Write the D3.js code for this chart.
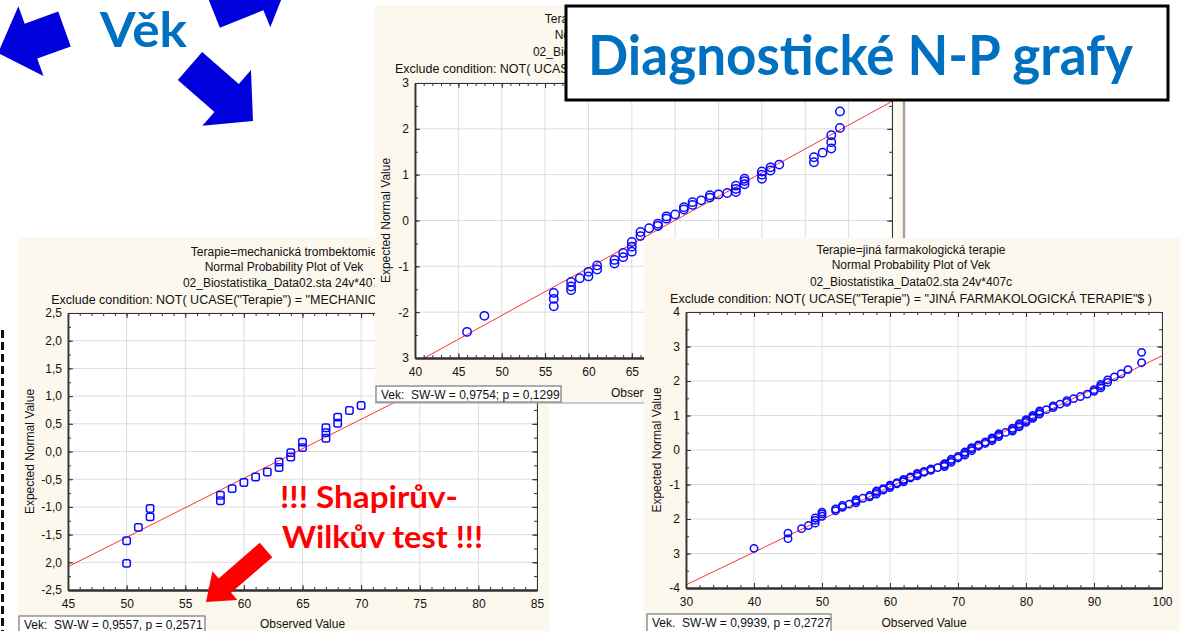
<!DOCTYPE html>
<html>
<head>
<meta charset="utf-8">
<script src="https://cdn.jsdelivr.net/npm/d3@7"></script>
<style>
  body { margin: 0; background: #fff; overflow: hidden; }
  svg { display: block; font-family: "Liberation Sans", Arial, sans-serif; }
</style>
</head>
<body>
<svg width="1180" height="631"></svg>
<script>
// ---- data ----
// [observed age, expected normal value]
var leftPoints = [
  [50, -2.02], [50, -1.61], [51, -1.37], [52, -1.18], [52, -1.03],
  [58, -0.89], [58, -0.79], [59, -0.67], [60, -0.56], [61, -0.46],
  [62, -0.37], [63, -0.29], [63, -0.19], [64, -0.10], [64, -0.02],
  [65, 0.07], [65, 0.17], [67, 0.24], [67, 0.34], [67, 0.43],
  [68, 0.51], [68, 0.62], [69, 0.74], [70, 0.83]
];
var topPoints = [
  [46, -2.43], [48, -2.08],
  [56, -1.58], [56, -1.71], [56, -1.87],
  [58, -1.34], [58, -1.44], [58, -1.52], [59, -1.26],
  [60, -1.12], [60, -1.22], [61, -0.98], [61, -1.07],
  [63, -0.86], [63, -0.94], [64, -0.71], [64, -0.80],
  [65, -0.47], [65, -0.57], [65, -0.68], [66, -0.25], [66, -0.34],
  [67, -0.17], [68, -0.07], [68, -0.12], [69, 0.04], [69, 0.09],
  [70, 0.13], [71, 0.24], [71, 0.29], [72, 0.34], [72, 0.40],
  [73, 0.44], [74, 0.50], [74, 0.55], [75, 0.57], [76, 0.60],
  [77, 0.62], [77, 0.69], [77, 0.76], [78, 0.79], [78, 0.86], [78, 0.91],
  [80, 0.91], [80, 1.00], [80, 1.07], [81, 1.09], [81, 1.16], [82, 1.22],
  [86, 1.27], [86, 1.38], [87, 1.48],
  [88, 1.57], [88, 1.71], [88, 1.86], [89, 2.02], [89, 2.38]
];
var rightPoints = [
  [40, -2.85], [45, -2.41], [45, -2.57], [47, -2.28], [48, -2.19],
  [49, -2.12], [49, -2.04], [49, -1.97], [50, -1.92], [50, -1.85], [50, -1.80],
  [52, -1.76], [52, -1.71], [53, -1.66], [53, -1.61], [54, -1.57],
  [55, -1.53], [55, -1.48], [55, -1.44], [56, -1.40], [57, -1.36], [57, -1.32],
  [58, -1.28], [58, -1.23], [58, -1.19], [59, -1.16], [59, -1.12],
  [60, -1.09], [60, -1.05], [60, -1.02], [61, -0.98], [61, -0.95],
  [62, -0.92], [62, -0.88], [62, -0.85], [63, -0.81], [63, -0.78],
  [64, -0.75], [64, -0.71], [64, -0.68], [65, -0.65], [65, -0.62],
  [66, -0.59], [66, -0.55], [67, -0.51], [68, -0.48], [68, -0.44], [68, -0.40],
  [69, -0.36], [69, -0.31], [69, -0.27], [70, -0.23], [70, -0.19],
  [71, -0.15], [71, -0.10], [71, -0.06], [72, -0.02], [72, 0.03], [72, 0.07],
  [73, 0.11], [73, 0.15], [74, 0.19], [74, 0.23],
  [75, 0.27], [75, 0.31], [75, 0.35], [76, 0.39], [76, 0.43], [76, 0.47],
  [77, 0.51], [78, 0.55], [78, 0.59], [78, 0.63], [79, 0.67], [79, 0.71], [79, 0.76],
  [80, 0.80], [80, 0.84], [80, 0.88], [81, 0.92], [81, 0.96], [81, 1.00],
  [82, 1.04], [82, 1.09], [82, 1.13], [83, 1.17], [84, 1.23], [84, 1.28],
  [85, 1.33], [86, 1.38], [86, 1.43], [87, 1.49], [88, 1.55], [89, 1.62],
  [90, 1.70], [90, 1.75], [91, 1.80], [91, 1.85], [91, 1.90],
  [92, 1.96], [92, 2.03], [93, 2.12], [94, 2.21], [95, 2.33],
  [97, 2.53], [97, 2.83]
];

// red reference lines, as two end points [x, y]
var leftFit = [[45, -2.08], [85, 2.18]];
var topFit = [[40, -3.11], [95, 2.60]];
var rightFit = [[30, -3.91], [100, 2.73]];

var leftXTicks = [45, 50, 55, 60, 65, 70, 75, 80, 85];
var leftYTicks = [2.5, 2, 1.5, 1, 0.5, 0, -0.5, -1, -1.5, -2, -2.5];
var leftYLabels = ["2,5", "2,0", "1,5", "1,0", "0,5", "0,0", "-0,5", "-1,0", "-1,5", "2,0", "-2,5"];
var topXTicks = [40, 45, 50, 55, 60, 65, 70, 75, 80, 85, 90, 95];
var topYTicks = [3, 2, 1, 0, -1, -2, -3];
var topYLabels = ["3", "2", "1", "0", "-1", "-2", "3"];
var rightXTicks = [30, 40, 50, 60, 70, 80, 90, 100];
var rightYTicks = [4, 3, 2, 1, 0, -1, -2, -3, -4];
var rightYLabels = ["4", "3", "2", "1", "0", "-1", "2", "3", "-4"];

var leftTitles = ["Terapie=mechanická trombektomie", "Normal Probability Plot of Vek",
  "02_Biostatistika_Data02.sta 24v*407c", 'Exclude condition: NOT( UCASE("Terapie") = "MECHANICKÁ TROMBEKTOMIE"$ )'];
var topTitles = ["Terapie=intraarteriální trombolýza", "Normal Probability Plot of Vek",
  "02_Biostatistika_Data02.sta 24v*407c", 'Exclude condition: NOT( UCASE("Terapie") = "INTRAARTERIÁLNÍ TROMBOLÝZA"$ )'];
var rightTitles = ["Terapie=jiná farmakologická terapie", "Normal Probability Plot of Vek",
  "02_Biostatistika_Data02.sta 24v*407c", 'Exclude condition: NOT( UCASE("Terapie") = "JINÁ FARMAKOLOGICKÁ TERAPIE"$ )'];

var leftStat = "Vek:  SW-W = 0,9557, p = 0,2571";
var topStat = "Vek:  SW-W = 0,9754; p = 0,1299";
var rightStat = "Vek.  SW-W = 0,9939, p = 0,2727";

var svg = d3.select("svg");
var cream = "#fcf8ee";

function drawChart(c) {
  var g = svg.append("g");
  var p = c.plot;

  g.append("rect")
    .attr("x", c.panel[0]).attr("y", c.panel[1])
    .attr("width", c.panel[2]).attr("height", c.panel[3])
    .attr("fill", cream);

  // title lines
  g.selectAll("text.title")
    .data(c.titles)
    .enter().append("text")
    .attr("class", "title")
    .attr("x", c.titleX)
    .attr("y", function(d, i) { return c.titleY[i]; })
    .attr("text-anchor", "middle")
    .attr("font-size", function(d, i) { return i == 3 ? 12.5 : 12; })
    .attr("fill", "#111")
    .text(function(d) { return d; });

  var x = d3.scaleLinear().domain(c.xDomain).range([p[0], p[1]]);
  var y = d3.scaleLinear().domain(c.yDomain).range([p[3], p[2]]);

  g.append("rect")
    .attr("x", p[0]).attr("y", p[2])
    .attr("width", p[1] - p[0]).attr("height", p[3] - p[2])
    .attr("fill", "#fff");

  // grid
  g.selectAll("line.gx")
    .data(c.xTicks)
    .enter().append("line")
    .attr("x1", function(d) { return x(d); }).attr("x2", function(d) { return x(d); })
    .attr("y1", p[2]).attr("y2", p[3])
    .attr("stroke", "#dcdcdc");
  g.selectAll("line.gy")
    .data(c.yTicks)
    .enter().append("line")
    .attr("y1", function(d) { return y(d); }).attr("y2", function(d) { return y(d); })
    .attr("x1", p[0]).attr("x2", p[1])
    .attr("stroke", "#dcdcdc");

  var clipId = "clip-" + c.name;
  g.append("clipPath").attr("id", clipId)
    .append("rect")
    .attr("x", p[0]).attr("y", p[2])
    .attr("width", p[1] - p[0]).attr("height", p[3] - p[2]);

  var inner = g.append("g").attr("clip-path", "url(#" + clipId + ")");

  inner.append("path")
    .datum(c.fit)
    .attr("d", d3.line().x(function(d) { return x(d[0]); }).y(function(d) { return y(d[1]); }))
    .attr("fill", "none")
    .attr("stroke", "#ff1a1a")
    .attr("stroke-width", 0.9);

  if (c.square) {
    inner.selectAll("rect.pt")
      .data(c.points)
      .enter().append("rect")
      .attr("x", function(d) { return x(d[0]) - 3.7; })
      .attr("y", function(d) { return y(d[1]) - 3.7; })
      .attr("width", 7.4).attr("height", 7.4).attr("rx", 2)
      .attr("fill", "none").attr("stroke", "#0a0aff").attr("stroke-width", 1.5);
  } else {
    inner.selectAll("circle.pt")
      .data(c.points)
      .enter().append("circle")
      .attr("cx", function(d) { return x(d[0]); })
      .attr("cy", function(d) { return y(d[1]); })
      .attr("r", c.r)
      .attr("fill", "none").attr("stroke", "#0a0aff").attr("stroke-width", 1.5);
  }

  // axes: labelled major ticks, minor ticks, all pointing inward
  var minorX = d3.range(c.xDomain[0], c.xDomain[1] + 0.001, c.xMinor);
  var minorY = d3.range(c.yDomain[0], c.yDomain[1] + 0.001, c.yMinor);

  function axisStyle(sel, w) {
    sel.select(".domain").attr("stroke", "#333").attr("stroke-width", w || 1);
    sel.selectAll(".tick line").attr("stroke", "#333");
    sel.selectAll(".tick text").attr("font-size", 12).attr("fill", "#111")
      .attr("font-family", "Liberation Sans, Arial, sans-serif");
  }

  g.append("g").attr("transform", "translate(0," + p[3] + ")")
    .call(d3.axisBottom(x).tickValues(c.xTicks).tickSize(-5).tickSizeOuter(0).tickPadding(9)
      .tickFormat(d3.format("d")))
    .call(axisStyle, 2);
  g.append("g").attr("transform", "translate(0," + p[3] + ")")
    .call(d3.axisBottom(x).tickValues(minorX).tickSize(-3).tickSizeOuter(0).tickFormat(""))
    .call(axisStyle, 2);
  g.append("g").attr("transform", "translate(" + p[0] + ",0)")
    .call(d3.axisLeft(y).tickValues(c.yTicks).tickSize(-5).tickSizeOuter(0).tickPadding(6)
      .tickFormat(function(d, i) { return c.yLabels[i]; }))
    .call(axisStyle, 1.5);
  g.append("g").attr("transform", "translate(" + p[0] + ",0)")
    .call(d3.axisLeft(y).tickValues(minorY).tickSize(-3).tickSizeOuter(0).tickFormat(""))
    .call(axisStyle, 1.5);
  g.append("g").attr("transform", "translate(0," + p[2] + ")")
    .call(d3.axisTop(x).tickValues(minorX).tickSize(-3).tickSizeOuter(0).tickFormat(""))
    .call(axisStyle);
  g.append("g").attr("transform", "translate(" + p[1] + ",0)")
    .call(d3.axisRight(y).tickValues(minorY).tickSize(-3).tickSizeOuter(0).tickFormat(""))
    .call(axisStyle);
  g.append("g").attr("transform", "translate(0," + p[2] + ")")
    .call(d3.axisTop(x).tickValues(c.xTicks).tickSize(-5).tickSizeOuter(0).tickFormat(""))
    .call(axisStyle);
  g.append("g").attr("transform", "translate(" + p[1] + ",0)")
    .call(d3.axisRight(y).tickValues(c.yTicks).tickSize(-5).tickSizeOuter(0).tickFormat(""))
    .call(axisStyle);

  // axis titles
  g.append("text")
    .attr("transform", "translate(" + c.yTitleX + "," + ((p[2] + p[3]) / 2) + ") rotate(-90)")
    .attr("text-anchor", "middle")
    .attr("dy", "0.35em")
    .attr("font-size", 12).attr("fill", "#111")
    .text("Expected Normal Value");
  g.append("text")
    .attr("x", (p[0] + p[1]) / 2).attr("y", c.xTitleY)
    .attr("text-anchor", "middle")
    .attr("font-size", 12).attr("fill", "#111")
    .text("Observed Value");

  // statistic box
  g.append("rect")
    .attr("x", c.statBox[0]).attr("y", c.statBox[1])
    .attr("width", c.statBox[2]).attr("height", c.statBox[3])
    .attr("fill", "#fff").attr("stroke", "#777").attr("stroke-width", 1.2);
  g.append("text")
    .attr("x", c.statBox[0] + 5).attr("y", c.statBox[1] + 13)
    .attr("font-size", 12).attr("fill", "#111")
    .attr("xml:space", "preserve")
    .text(c.stat);

  return g;
}

// dashed guide on the left edge
svg.append("line")
  .attr("x1", 2.5).attr("x2", 2.5).attr("y1", 330).attr("y2", 631)
  .attr("stroke", "#111").attr("stroke-width", 3).attr("stroke-dasharray", "8,4");

drawChart({
  name: "left", panel: [18, 237, 531, 400], plot: [68, 537, 313, 590],
  xDomain: [45, 85], yDomain: [-2.5, 2.5], xMinor: 1, yMinor: 0.25,
  xTicks: leftXTicks, yTicks: leftYTicks, yLabels: leftYLabels,
  titles: leftTitles, titleX: 284, titleY: [256, 271, 287, 304],
  points: leftPoints, fit: leftFit, square: true,
  yTitleX: 30, xTitleY: 628, statBox: [19, 616, 186, 20], stat: leftStat
});

var topG = drawChart({
  name: "top", panel: [375, 5, 530, 398], plot: [415, 892, 83, 358],
  xDomain: [40, 95], yDomain: [-3, 3], xMinor: 1, yMinor: 0.5,
  xTicks: topXTicks, yTicks: topYTicks, yLabels: topYLabels,
  titles: topTitles, titleX: 634, titleY: [23, 39, 56, 73],
  points: topPoints, fit: topFit, r: 4.2,
  yTitleX: 386, xTitleY: 397, statBox: [376, 386, 185, 16], stat: topStat
});
topG.append("line").attr("x1", 904).attr("x2", 904).attr("y1", 5).attr("y2", 403)
  .attr("stroke", "#a8a298").attr("stroke-width", 2.5);
topG.append("line").attr("x1", 375).attr("x2", 905).attr("y1", 403).attr("y2", 403)
  .attr("stroke", "#999").attr("stroke-width", 1);

drawChart({
  name: "right", panel: [644, 238, 536, 393], plot: [686, 1162, 312, 588],
  xDomain: [30, 100], yDomain: [-4, 4], xMinor: 2, yMinor: 0.5,
  xTicks: rightXTicks, yTicks: rightYTicks, yLabels: rightYLabels,
  titles: rightTitles, titleX: 911, titleY: [254, 269, 286, 303],
  points: rightPoints, fit: rightFit, r: 3.7,
  yTitleX: 657, xTitleY: 627, statBox: [647, 614, 184, 19], stat: rightStat
});

// ---- slide decorations ----
function arrowPoints(tail, tip, sw, hw, hl) {
  var dx = tip[0] - tail[0], dy = tip[1] - tail[1];
  var len = Math.hypot(dx, dy), ux = dx / len, uy = dy / len, nx = -uy, ny = ux;
  var bx = tip[0] - ux * hl, by = tip[1] - uy * hl;
  return [
    [tail[0] + nx * sw / 2, tail[1] + ny * sw / 2],
    [bx + nx * sw / 2, by + ny * sw / 2],
    [bx + nx * hw / 2, by + ny * hw / 2],
    tip,
    [bx - nx * hw / 2, by - ny * hw / 2],
    [bx - nx * sw / 2, by - ny * sw / 2],
    [tail[0] - nx * sw / 2, tail[1] - ny * sw / 2]
  ].map(function(d) { return d.join(","); }).join(" ");
}

var blueArrows = [
  { tail: [64.5, 29], tip: [-2, 53] },
  { tail: [213, 10.5], tip: [289, -20] },
  { tail: [190, 66], tip: [253, 121] }
];
svg.selectAll("polygon.blue")
  .data(blueArrows)
  .enter().append("polygon")
  .attr("points", function(d) { return arrowPoints(d.tail, d.tip, 37, 74, 35); })
  .attr("fill", "#0000dc");

svg.append("polygon")
  .attr("points", arrowPoints([266, 550], [206, 602], 19, 38, 25))
  .attr("fill", "#ff0000");

svg.append("text")
  .attr("x", 100).attr("y", 47)
  .attr("font-family", "Lato, 'Open Sans', sans-serif").attr("font-weight", 700)
  .attr("font-size", 48).attr("fill", "#0070c0")
  .attr("textLength", 87).attr("lengthAdjust", "spacingAndGlyphs")
  .text("Věk");

var red = svg.append("g")
  .attr("font-family", "Lato, 'Open Sans', sans-serif").attr("font-weight", 700)
  .attr("font-size", 31).attr("fill", "#ff0000");
red.append("text").attr("x", 280).attr("y", 508)
  .attr("textLength", 178).attr("lengthAdjust", "spacingAndGlyphs")
  .text("!!! Shapirův-");
red.append("text").attr("x", 282).attr("y", 548)
  .attr("textLength", 201).attr("lengthAdjust", "spacingAndGlyphs")
  .text("Wilkův test !!!");

svg.append("rect")
  .attr("x", 566).attr("y", 6).attr("width", 602).attr("height", 94)
  .attr("fill", "#fff").attr("stroke", "#000").attr("stroke-width", 3);
svg.append("text")
  .attr("x", 588).attr("y", 75)
  .attr("font-family", "Lato, 'Open Sans', sans-serif").attr("font-weight", 700)
  .attr("font-size", 56).attr("fill", "#0070c0")
  .attr("textLength", 545).attr("lengthAdjust", "spacingAndGlyphs")
  .text("Diagnostické N-P grafy");
</script>
</body>
</html>
